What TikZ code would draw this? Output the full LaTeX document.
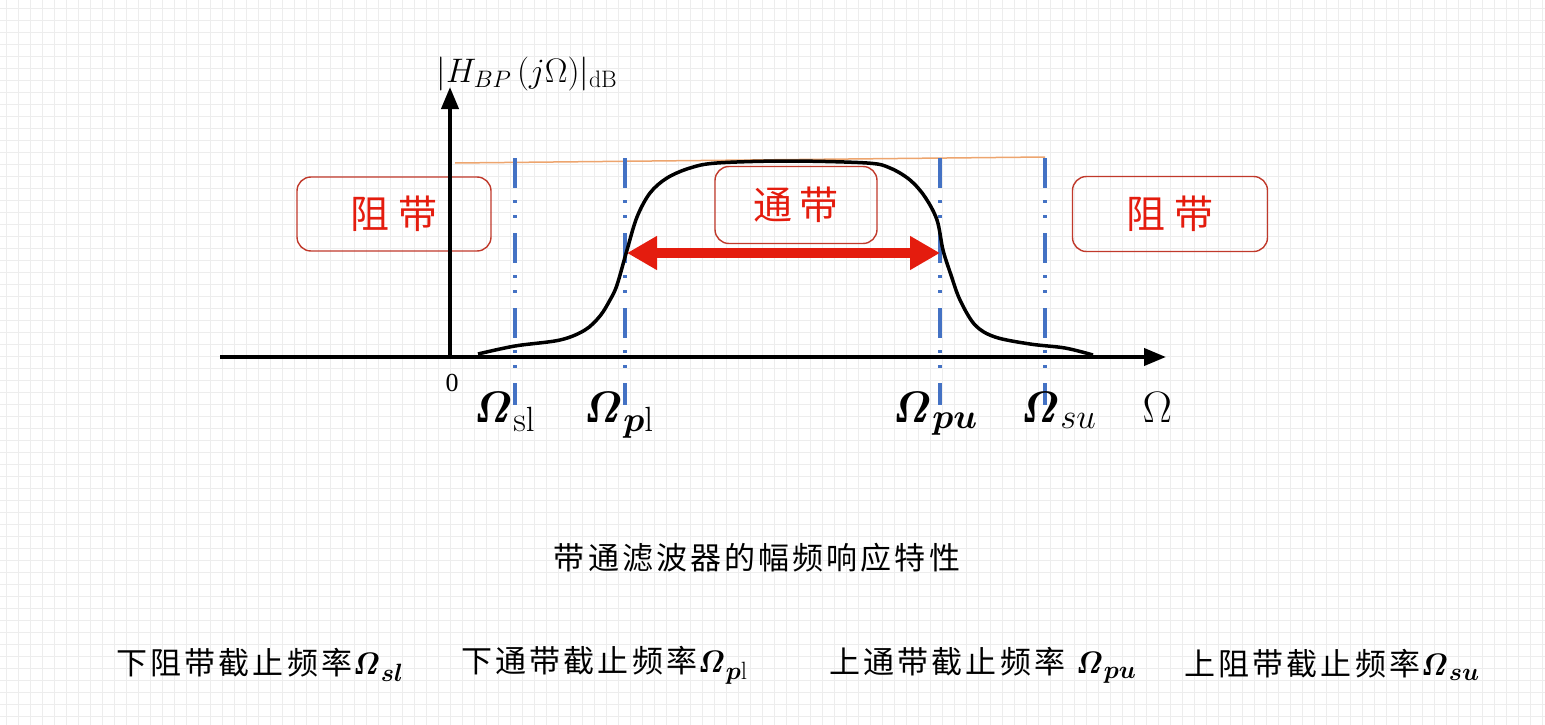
\RequirePackage{fix-cm}
\documentclass[tikz,border=0pt]{standalone}
\usepackage{amsmath}
\usepackage[no-math]{fontspec}
\setmainfont{Liberation Serif}
\newfontfamily\cjk{Noto Sans CJK SC}
\usetikzlibrary{arrows.meta}
\DeclareMathSizes{44}{44}{35}{28}
\DeclareMathSizes{31}{31}{25}{20}
\definecolor{guideblue}{RGB}{68,114,196}
\definecolor{bandred}{RGB}{192,57,43}
\definecolor{textred}{RGB}{228,28,14}
\definecolor{refline}{RGB}{237,165,110}
\newcommand{\bOm}{\boldsymbol{\mathit{\Omega}}}

\begin{document}
\begin{tikzpicture}[
  x=1pt, y=-1pt,
  gridline/.style={black!7, line width=0.8pt},
  axis/.style={line width=4pt, -{Triangle[length=22pt,width=17pt]}},
  guide/.style={guideblue, line width=3.5pt,
    dash pattern=on 30pt off 12pt on 3pt off 12pt on 3pt off 15pt},
  band/.style={draw=bandred, line width=1.4pt, rounded corners=14pt,
    text=textred, font=\cjk\fontsize{39}{44}\selectfont},
  passarrow/.style={textred, line width=10pt,
    {Triangle[length=30pt,width=32pt]}-{Triangle[length=30pt,width=32pt]}},
  lab/.style={font=\fontsize{44}{48}\selectfont},
  note/.style={font=\cjk\fontsize{31}{36}\selectfont\addfontfeatures{LetterSpace=10}}
]
\useasboundingbox (0,0) rectangle (1545,725);
\foreach \gx in {6,18,...,1545} \draw[gridline] (\gx,0) -- (\gx,725);
\foreach \gy in {8,20,...,725} \draw[gridline] (0,\gy) -- (1545,\gy);

% stop and pass bands
\node[band, minimum width=194pt, minimum height=74pt] (stopl) at (394,214) {阻\hspace{9pt}带};
\node[band, minimum width=162pt, minimum height=77pt] (pass) at (796,205) {通\hspace{7pt}带};
\node[band, minimum width=195pt, minimum height=75pt] (stopu) at (1170,214) {阻\hspace{9pt}带};

% axes
\coordinate (o) at (450,357);
\coordinate (xl) at (220,357);
\coordinate (xe) at (1166,357);
\coordinate (ye) at (450,87);
\draw[axis] (xl) -- (xe);
\draw[axis] (o) -- (ye);
\node[font=\fontsize{34}{38}\selectfont] (ylab) at (527,74) {$|H_{BP}\,(j\Omega)|_{\mathrm{dB}}$};
\node[font=\fontsize{26}{28}\selectfont] (zero) at (452,383) {0};

\coordinate (rl) at (455,163);
\coordinate (rr) at (1045,157);
\draw[refline, line width=1.5pt] (rl) -- (rr);

\foreach \gx/\gn in {515/sl,625/pl,940/pu,1045/su} {
  \coordinate (\gn top) at (\gx,158);
  \coordinate (\gn bot) at (\gx,405);
  \draw[guide] (\gn top) -- (\gn bot);
}

% magnitude response
\draw[line width=3.5pt, line join=round] plot[smooth, tension=0.55] coordinates {
  (478,354) (515,346) (560,340) (585,330) (600,316) (610,300) (617,285)
  (627,250) (637,217) (650,193) (667,178) (690,168) (717,163) (787,161)
  (867,163) (890,168) (910,180) (925,197) (937,220) (943,250) (951,275)
  (960,300) (975,325) (995,337) (1030,344) (1065,348) (1093,355)};

\coordinate (pl mid) at (627,253);
\coordinate (pu mid) at (940,253);
\draw[passarrow] (pl mid) -- (pu mid);

\node[lab, anchor=base west] (lsl) at (469,422) {$\bOm_{\mathrm{sl}}$};
\node[lab, anchor=base west] (lpl) at (579,422) {$\bOm_{\boldsymbol{p}\mathrm{l}}$};
\node[lab, anchor=base west] (lpu) at (888,422) {$\bOm_{\boldsymbol{pu}}$};
\node[lab, anchor=base west] (lsu) at (1016,422) {$\bOm_{su}$};
\node[lab, anchor=base west] (omega) at (1139,422) {$\Omega$};

\node[note] (caption) at (757,558) {带通滤波器的幅频响应特性};
\node[note, anchor=west] (nsl) at (113,665) {下阻带截止频率$\bOm_{\boldsymbol{sl}}$};
\node[note, anchor=west] (npl) at (458,665) {下通带截止频率$\bOm_{\boldsymbol{p}\mathrm{l}}$};
\node[note, anchor=west] (npu) at (826,665) {上通带截止频率 $\bOm_{\boldsymbol{pu}}$};
\node[note, anchor=west] (nsu) at (1181,665) {上阻带截止频率$\bOm_{\boldsymbol{su}}$};
\end{tikzpicture}
\end{document}
